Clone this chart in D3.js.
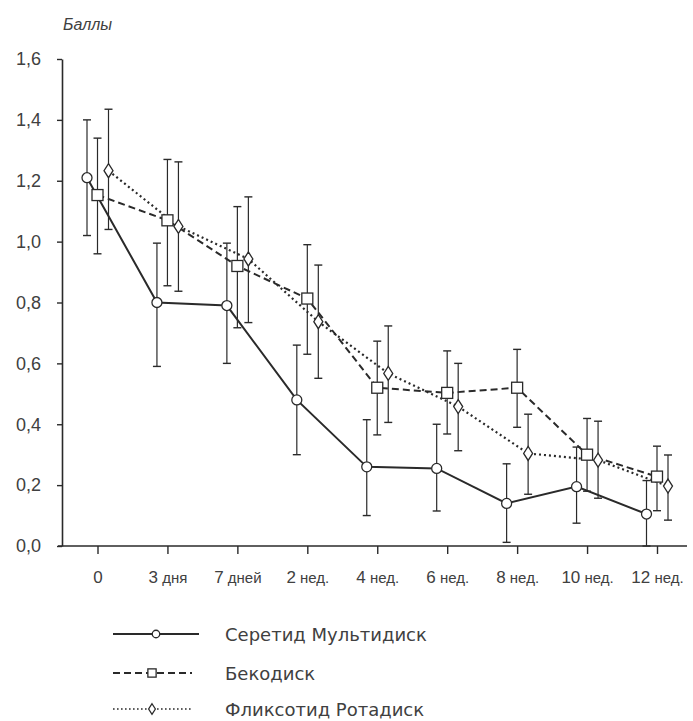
<!DOCTYPE html>
<html>
<head>
<meta charset="utf-8">
<script src="https://cdn.jsdelivr.net/npm/d3@7"></script>
<style>
  body { margin: 0; background: #fff; }
  svg { display: block; font-family: "Liberation Sans", Arial, sans-serif; }
</style>
</head>
<body>
<svg id="chart" width="693" height="721"></svg>
<script>
// categories and tick labels
var categories = ["0", "3 дня", "7 дней", "2 нед.", "4 нед.", "6 нед.", "8 нед.", "10 нед.", "12 нед."];
var yTicks = [0, 0.2, 0.4, 0.6, 0.8, 1.0, 1.2, 1.4, 1.6];

// Серетид Мультидиск
var seretideMean = [1.21, 0.80, 0.79, 0.48, 0.26, 0.255, 0.14, 0.195, 0.105];
var seretideHigh = [1.40, 0.995, 0.995, 0.66, 0.415, 0.40, 0.27, 0.325, 0.215];
var seretideLow  = [1.02, 0.59, 0.60, 0.30, 0.10, 0.115, 0.012, 0.075, 0.0];

// Бекодиск
var becoMean = [1.153, 1.07, 0.92, 0.813, 0.52, 0.503, 0.52, 0.30, 0.228];
var becoHigh = [1.34, 1.27, 1.115, 0.99, 0.673, 0.641, 0.646, 0.419, 0.328];
var becoLow  = [0.96, 0.855, 0.717, 0.63, 0.365, 0.368, 0.39, 0.18, 0.116];

// Фликсотид Ротадиск
var flixMean = [1.233, 1.05, 0.943, 0.737, 0.567, 0.458, 0.304, 0.282, 0.197];
var flixHigh = [1.435, 1.262, 1.147, 0.923, 0.723, 0.60, 0.433, 0.41, 0.299];
var flixLow  = [1.04, 0.837, 0.734, 0.551, 0.406, 0.313, 0.17, 0.157, 0.085];

var seriesNames = ["Серетид Мультидиск", "Бекодиск", "Фликсотид Ротадиск"];

var ink = "#2a2a2a";
var textColor = "#404040";

var series = [
    { name: seriesNames[0], mean: seretideMean, hi: seretideHigh, lo: seretideLow, marker: "circle", dash: null, shift: -10.5 },
    { name: seriesNames[1], mean: becoMean, hi: becoHigh, lo: becoLow, marker: "square", dash: "7,4", shift: 0 },
    { name: seriesNames[2], mean: flixMean, hi: flixHigh, lo: flixLow, marker: "diamond", dash: "2,3", shift: 11 }
];

var svg = d3.select("#chart");

var x = d3.scalePoint()
    .domain(categories)
    .range([97.5, 657]);

var y = d3.scaleLinear()
    .domain([0, 1.6])
    .range([546, 59]);

var ruLocale = d3.formatLocale({ decimal: ",", thousands: " ", grouping: [3], currency: ["", ""] });
var fmt = ruLocale.format(".1f");

// y axis
var yAxis = svg.append("g")
    .attr("transform", "translate(62,0)")
    .call(d3.axisLeft(y).tickValues(yTicks).tickSize(5).tickSizeOuter(0).tickPadding(16).tickFormat(fmt));
yAxis.select(".domain").attr("stroke", ink).attr("stroke-width", 1.6);
yAxis.selectAll(".tick line").attr("stroke", ink).attr("stroke-width", 1.4);
yAxis.selectAll(".tick text")
    .attr("fill", textColor)
    .attr("font-size", 18)
    .attr("font-family", "Liberation Sans, Arial, sans-serif");

// x axis
var xAxis = svg.append("g")
    .attr("transform", "translate(0,546)")
    .call(d3.axisBottom(x).tickSize(8).tickSizeOuter(0).tickFormat(""));
xAxis.select(".domain").remove();
xAxis.selectAll(".tick line").attr("stroke", ink).attr("stroke-width", 1.4);
xAxis.append("line")
    .attr("x1", 58).attr("x2", 687)
    .attr("y1", 0).attr("y2", 0)
    .attr("stroke", ink)
    .attr("stroke-width", 1.6);

// x labels: number bigger, word smaller
xAxis.selectAll(".tick").each(function (d) {
    var parts = d.split(" ");
    var t = d3.select(this).append("text")
        .attr("y", 37)
        .attr("text-anchor", "middle")
        .attr("fill", textColor)
        .attr("font-size", 17);
    t.append("tspan").text(parts[0]);
    if (parts.length > 1) {
        t.append("tspan").attr("font-size", 15).text(" " + parts[1]);
    }
});

// y axis title
svg.append("text")
    .attr("x", 63)
    .attr("y", 30)
    .attr("font-size", 16)
    .attr("font-style", "italic")
    .attr("fill", textColor)
    .text("Баллы");

function px(s, i) {
    return x(categories[i]) + s.shift;
}

function drawMarker(g, type, cx, cy, k) {
    k = k || 1;
    if (type == "circle") {
        g.append("circle")
            .attr("cx", cx).attr("cy", cy).attr("r", 5 * k)
            .attr("fill", "#fff").attr("stroke", ink).attr("stroke-width", 1.3);
    } else if (type == "square") {
        g.append("rect")
            .attr("x", cx - 5.5 * k).attr("y", cy - 5.5 * k)
            .attr("width", 11 * k).attr("height", 11 * k)
            .attr("fill", "#fff").attr("stroke", ink).attr("stroke-width", 1.3);
    } else {
        g.append("path")
            .attr("d", "M" + cx + "," + (cy - 7 * k) + "L" + (cx + 4.5 * k) + "," + cy + "L" + cx + "," + (cy + 7 * k) + "L" + (cx - 4.5 * k) + "," + cy + "Z")
            .attr("fill", "#fff").attr("stroke", ink).attr("stroke-width", 1.3);
    }
}

// error bars
series.forEach(function (s) {
    var g = svg.append("g").attr("class", "errors");
    s.mean.forEach(function (v, i) {
        var cx = px(s, i);
        g.append("line")
            .attr("x1", cx).attr("x2", cx)
            .attr("y1", y(s.hi[i])).attr("y2", y(s.lo[i]))
            .attr("stroke", ink).attr("stroke-width", 1.2);
        [s.hi[i], s.lo[i]].forEach(function (e) {
            g.append("line")
                .attr("x1", cx - 4).attr("x2", cx + 4)
                .attr("y1", y(e)).attr("y2", y(e))
                .attr("stroke", ink).attr("stroke-width", 1.4);
        });
    });
});

// lines
var line = d3.line()
    .x(function (d) { return d.x; })
    .y(function (d) { return y(d.v); });

series.forEach(function (s) {
    var pts = s.mean.map(function (v, i) { return { x: px(s, i), v: v }; });
    svg.append("path")
        .datum(pts)
        .attr("d", line)
        .attr("fill", "none")
        .attr("stroke", ink)
        .attr("stroke-width", s.dash == "2,3" ? 2.2 : 2)
        .attr("stroke-dasharray", s.dash);
});

// markers
series.forEach(function (s) {
    var g = svg.append("g");
    s.mean.forEach(function (v, i) {
        drawMarker(g, s.marker, px(s, i), y(v));
    });
});

// legend
var legendY = [634, 673, 709];
series.forEach(function (s, i) {
    var g = svg.append("g").attr("transform", "translate(0," + legendY[i] + ")");
    g.append("line")
        .attr("x1", 113).attr("x2", s.dash ? 192 : 199)
        .attr("y1", 0).attr("y2", 0)
        .attr("stroke", ink)
        .attr("stroke-width", s.dash == "2,3" ? 1.6 : 2)
        .attr("stroke-dasharray", s.dash == "2,3" ? "1.6,2.4" : s.dash);
    drawMarker(g, s.marker, s.dash ? 152 : 156, 0, 0.75);
    g.append("text")
        .attr("x", 225)
        .attr("y", 7)
        .attr("font-size", 18)
        .attr("font-family", "DejaVu Sans, sans-serif")
        .attr("fill", textColor)
        .text(s.name);
});
</script>
</body>
</html>
